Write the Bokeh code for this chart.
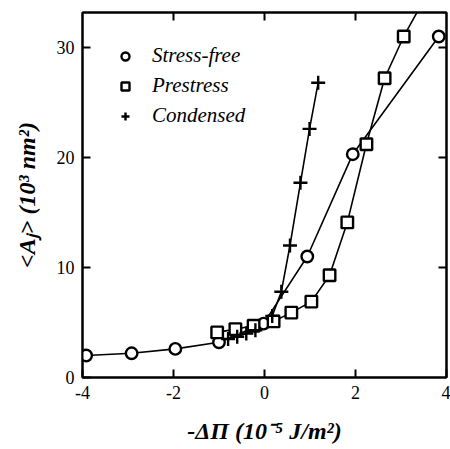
from bokeh.plotting import figure
from bokeh.models import Range1d, FixedTicker, LinearAxis, Legend, LegendItem
from bokeh.embed import file_html
from bokeh.resources import INLINE

# ---- data ----
sf_x = [-3.92, -2.92, -1.96, -1.0, -0.02, 0.94, 1.94, 3.83]
sf_y = [2.0, 2.2, 2.6, 3.2, 4.9, 11.0, 20.3, 31.0]

ps_x = [-1.04, -0.64, -0.24, 0.2, 0.59, 1.03, 1.43, 1.82, 2.24, 2.64, 3.06, 3.5]
ps_y = [4.1, 4.4, 4.7, 5.1, 5.9, 6.9, 9.3, 14.1, 21.2, 27.2, 31.0, 34.3]

cd_x = [-0.8, -0.6, -0.4, -0.2, 0.17, 0.37, 0.56, 0.79, 0.99, 1.18]
cd_y = [3.5, 3.7, 4.0, 4.3, 5.6, 7.8, 12.0, 17.7, 22.6, 26.8]

series_names = ["Stress-free", "Prestress", "Condensed"]
x_ticks = [-4, -2, 0, 2, 4]
x_tick_labels = ["-4", "-2", "0", "2", "4"]
y_ticks = [0, 10, 20, 30]
x_title = "-ΔΠ (10⁻⁵ J/m²)"
y_title = "<Aⱼ> (10³ nm²)"

FONT = "Liberation Serif"

p = figure(width=450, height=449, output_backend="svg", toolbar_location=None,
           x_range=Range1d(-4, 4), y_range=Range1d(0, 33.18),
           min_border_left=82, min_border_right=4, min_border_top=12, min_border_bottom=72,
           x_axis_location=None, y_axis_location=None)
p.grid.visible = False
p.outline_line_color = "black"
p.outline_line_width = 2
p.background_fill_color = "white"
p.border_fill_color = "white"

def make_axis(ticks, show_labels):
    ax = LinearAxis(ticker=FixedTicker(ticks=ticks))
    ax.axis_line_color = "black"
    ax.axis_line_width = 2
    ax.major_tick_in = 8
    ax.major_tick_out = 0
    ax.major_tick_line_width = 2
    ax.minor_tick_line_color = None
    if show_labels:
        ax.major_label_text_font = FONT
        ax.major_label_text_font_size = "18px"
        ax.major_label_text_color = "black"
        ax.major_label_standoff = 8
        ax.axis_label_text_font = FONT
        ax.axis_label_text_font_style = "bold italic"
        ax.axis_label_text_font_size = "24px"
        ax.axis_label_text_color = "black"
    else:
        ax.major_label_text_font_size = "1px"
        ax.major_label_text_color = None
        ax.major_label_standoff = 0
    return ax

xb = make_axis(x_ticks, True)
xb.major_label_overrides = {t: s for t, s in zip(x_ticks, x_tick_labels)}
xb.axis_label = x_title
xb.axis_label_standoff = 16
yl = make_axis(y_ticks, True)
yl.axis_label = y_title
yl.axis_label_standoff = 14
p.add_layout(xb, "below")
p.add_layout(yl, "left")
p.add_layout(make_axis([-2, 0, 2], False), "above")
p.add_layout(make_axis([10, 20, 30], False), "right")

# ---- series ----
lw = 1.6
p.line(sf_x, sf_y, line_color="black", line_width=lw)
p.line(ps_x, ps_y, line_color="black", line_width=lw)
p.line(cd_x, cd_y, line_color="black", line_width=lw)

r_sf = p.scatter(sf_x, sf_y, marker="circle", size=11.5, fill_color="white",
                 line_color="black", line_width=2.4)
r_ps = p.scatter(ps_x, ps_y, marker="square", size=11.5, fill_color="white",
                 line_color="black", line_width=2.4)
r_cd = p.scatter(cd_x, cd_y, marker="cross", size=14,
                 line_color="black", line_width=2.4)

legend = Legend(items=[LegendItem(label=series_names[0], renderers=[r_sf]),
                       LegendItem(label=series_names[1], renderers=[r_ps]),
                       LegendItem(label=series_names[2], renderers=[r_cd])],
                location=(33, 249))
legend.border_line_color = None
legend.background_fill_alpha = 0
legend.padding = 0
legend.margin = 0
legend.spacing = 5
legend.glyph_width = 20
legend.glyph_height = 20
legend.label_standoff = 17
legend.label_text_font = FONT
legend.label_text_font_style = "italic"
legend.label_text_font_size = "21px"
legend.label_text_color = "black"
legend.label_height = 20
p.add_layout(legend)

open("out.html", "w").write(file_html(p, INLINE))
